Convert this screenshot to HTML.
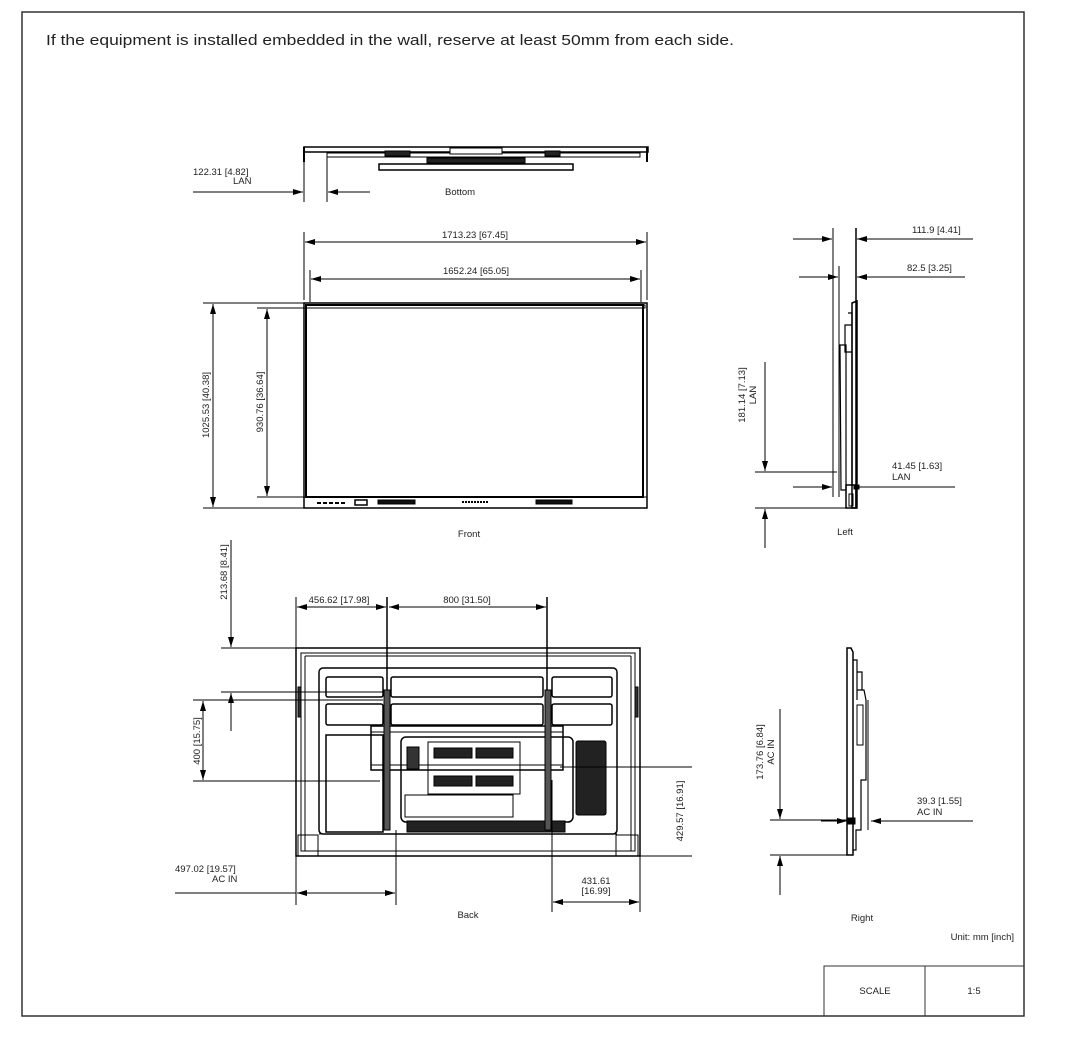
<!DOCTYPE html>
<html><head><meta charset="utf-8"><style>
html,body{margin:0;padding:0;background:#fff}
svg{display:block}
text{font-family:"Liberation Sans",sans-serif;fill:#222}
</style></head><body>
<svg width="1071" height="1040" viewBox="0 0 1071 1040" xmlns="http://www.w3.org/2000/svg">
<defs>
<marker id="a" viewBox="0 0 10 6" refX="10" refY="3" markerWidth="10" markerHeight="6" markerUnits="userSpaceOnUse" orient="auto-start-reverse"><path d="M0,0 L10,3 L0,6 Z" fill="#000"/></marker>
</defs>
<rect x="22" y="12" width="1002" height="1004" fill="none" stroke="#333" stroke-width="1.5"/>
<text x="46" y="45" font-size="15" textLength="688" lengthAdjust="spacingAndGlyphs">If the equipment is installed embedded in the wall, reserve at least 50mm from each side.</text>

<g stroke="#000" fill="none" stroke-width="1">
<!-- Bottom view -->
<rect x="304" y="147" width="344" height="5" stroke-width="1.5"/>
<line x1="304" y1="147" x2="304" y2="162" stroke-width="2"/>
<line x1="647" y1="147" x2="647" y2="162" stroke-width="2"/>
<rect x="327" y="153" width="313" height="4"/>
<rect x="379" y="164" width="194" height="6" stroke-width="1.5"/>
<rect x="385" y="151" width="25" height="5" fill="#222"/>
<rect x="427" y="158" width="98" height="5" fill="#222"/>
<rect x="545" y="151" width="15" height="5" fill="#222"/>
<rect x="450" y="148" width="52" height="6" fill="#fff"/>
<line x1="304" y1="150" x2="304" y2="202"/>
<line x1="327" y1="155" x2="327" y2="202"/>
<line x1="193" y1="192" x2="303" y2="192" marker-end="url(#a)"/>
<line x1="370" y1="192" x2="328" y2="192" marker-end="url(#a)"/>

<!-- Front view -->
<rect x="304" y="303" width="343" height="205" stroke-width="1.5"/>
<rect x="306" y="305" width="339" height="3" stroke-width="1"/>
<rect x="306" y="305" width="337" height="192" stroke-width="2"/>
<line x1="304" y1="497" x2="647" y2="497"/>
<line x1="304" y1="232" x2="304" y2="300"/>
<line x1="647" y1="232" x2="647" y2="300"/>
<line x1="310" y1="270" x2="310" y2="302"/>
<line x1="641" y1="270" x2="641" y2="302"/>
<line x1="305" y1="242" x2="646" y2="242" marker-start="url(#a)" marker-end="url(#a)"/>
<line x1="311" y1="279" x2="640" y2="279" marker-start="url(#a)" marker-end="url(#a)"/>
<line x1="203" y1="303" x2="304" y2="303"/>
<line x1="203" y1="508" x2="304" y2="508"/>
<line x1="257" y1="308" x2="306" y2="308"/>
<line x1="257" y1="497" x2="306" y2="497"/>
<line x1="213" y1="304" x2="213" y2="507" marker-start="url(#a)" marker-end="url(#a)"/>
<line x1="267" y1="309" x2="267" y2="496" marker-start="url(#a)" marker-end="url(#a)"/>
<line x1="317" y1="503" x2="347" y2="503" stroke-width="2" stroke-dasharray="4,2"/>
<rect x="355" y="500" width="12" height="5" stroke-width="1.5"/>
<rect x="378" y="500" width="37" height="4" fill="#111"/>
<line x1="462" y1="502" x2="488" y2="502" stroke-width="2" stroke-dasharray="2,1"/>
<rect x="536" y="500" width="36" height="4" fill="#111"/>

<!-- Back view -->
<line x1="231" y1="540" x2="231" y2="647" marker-end="url(#a)"/>
<line x1="221" y1="648" x2="296" y2="648"/>
<line x1="296" y1="597" x2="296" y2="648"/>
<line x1="387" y1="597" x2="387" y2="830" stroke-width="1.5"/>
<line x1="547" y1="597" x2="547" y2="830" stroke-width="1.5"/>
<line x1="297" y1="607" x2="386" y2="607" marker-start="url(#a)" marker-end="url(#a)"/>
<line x1="389" y1="607" x2="546" y2="607" marker-start="url(#a)" marker-end="url(#a)"/>
<rect x="296" y="648" width="344" height="208" stroke-width="1.5"/>
<rect x="301" y="653" width="334" height="198"/>
<path d="M305,656 L631,656 M305,656 L305,851 M631,656 L631,851"/>
<rect x="319" y="668" width="298" height="166" rx="4" stroke-width="1.5"/>
<rect x="326" y="677" width="57" height="20" rx="2" stroke-width="1.5"/>
<rect x="391" y="677" width="152" height="20" rx="2" stroke-width="1.5"/>
<rect x="552" y="677" width="60" height="20" rx="2" stroke-width="1.5"/>
<rect x="326" y="704" width="57" height="21" rx="2" stroke-width="1.5"/>
<rect x="391" y="704" width="152" height="21" rx="2" stroke-width="1.5"/>
<rect x="552" y="704" width="60" height="21" rx="2" stroke-width="1.5"/>
<rect x="326" y="735" width="57" height="97" stroke-width="1.5"/>
<rect x="401" y="737" width="172" height="85" rx="5" stroke-width="1.5"/>
<rect x="428" y="742" width="92" height="52"/>
<rect x="405" y="795" width="108" height="22"/>
<rect x="371" y="726" width="192" height="44" stroke-width="1.5"/>
<line x1="371" y1="732" x2="563" y2="732"/>
<line x1="371" y1="765" x2="563" y2="765"/>
<rect x="434" y="748" width="38" height="10" fill="#222"/>
<rect x="476" y="748" width="37" height="10" fill="#222"/>
<rect x="434" y="776" width="38" height="10" fill="#222"/>
<rect x="476" y="776" width="37" height="10" fill="#222"/>
<rect x="407" y="747" width="12" height="22" fill="#333"/>
<rect x="576" y="741" width="30" height="74" rx="2" fill="#222"/>
<rect x="407" y="821" width="158" height="11" fill="#222"/>
<rect x="384" y="690" width="6" height="140" fill="#555"/>
<rect x="545" y="690" width="6" height="140" fill="#555"/>
<rect x="298" y="687" width="3" height="30" fill="#333"/>
<rect x="635" y="687" width="3" height="30" fill="#333"/>
<rect x="298" y="835" width="20" height="21"/>
<rect x="616" y="835" width="22" height="21"/>
<line x1="319" y1="834" x2="617" y2="834"/>
<line x1="221" y1="692" x2="383" y2="692"/>
<line x1="193" y1="700" x2="383" y2="700"/>
<line x1="193" y1="781" x2="380" y2="781"/>
<line x1="231" y1="731" x2="231" y2="693" marker-end="url(#a)"/>
<line x1="203" y1="701" x2="203" y2="780" marker-start="url(#a)" marker-end="url(#a)"/>
<line x1="560" y1="767" x2="692" y2="767"/>
<line x1="640" y1="856" x2="692" y2="856"/>
<line x1="296" y1="856" x2="296" y2="905"/>
<line x1="396" y1="830" x2="396" y2="905"/>
<line x1="175" y1="893" x2="296" y2="893"/>
<line x1="297" y1="893" x2="395" y2="893" marker-start="url(#a)" marker-end="url(#a)"/>
<line x1="552" y1="780" x2="552" y2="912"/>
<line x1="640" y1="856" x2="640" y2="912"/>
<line x1="553" y1="902" x2="639" y2="902" marker-start="url(#a)" marker-end="url(#a)"/>

<!-- Left view -->
<line x1="833" y1="228" x2="833" y2="497"/>
<line x1="839" y1="266" x2="839" y2="497"/>
<line x1="856" y1="228" x2="856" y2="508" stroke-width="1.5"/>
<line x1="793" y1="239" x2="832" y2="239" marker-end="url(#a)"/>
<line x1="973" y1="239" x2="857" y2="239" marker-end="url(#a)"/>
<line x1="799" y1="277" x2="838" y2="277" marker-end="url(#a)"/>
<line x1="965" y1="277" x2="857" y2="277" marker-end="url(#a)"/>
<path d="M852,303 L857,301 L857,508 L852,508 Z" stroke-width="1.5"/>
<path d="M848,313 L852,313 L852,485 M845,325 L852,325 L852,352 L845,352 Z M840,345 L846,345 L846,490 L841,490 Z" stroke-width="1.2"/>
<rect x="846" y="485" width="10" height="23" stroke-width="1.5"/>
<rect x="849" y="494" width="4" height="12"/>
<line x1="765" y1="362" x2="765" y2="471" marker-end="url(#a)"/>
<line x1="755" y1="472" x2="837" y2="472"/>
<line x1="755" y1="508" x2="850" y2="508"/>
<line x1="765" y1="548" x2="765" y2="509" marker-end="url(#a)"/>
<line x1="793" y1="487" x2="832" y2="487" marker-end="url(#a)"/>
<line x1="855" y1="487" x2="955" y2="487"/>
<rect x="854" y="485" width="5" height="4" fill="#000"/>

<!-- Right view -->
<path d="M847,648 L851,648 L853,652 L853,855 L847,855 Z" stroke-width="1.5"/>
<path d="M853,660 L857,660 L857,700 M857,672 L862,672 L862,690 L857,690 M858,690 L864,690 L866,700 L866,780 L861,780 L861,830 L856,830 L856,850 L853,850" stroke-width="1.2"/>
<rect x="857" y="705" width="6" height="40" fill="#fff"/>
<line x1="868" y1="700" x2="868" y2="830"/>
<line x1="780" y1="709" x2="780" y2="819" marker-end="url(#a)"/>
<line x1="770" y1="820" x2="850" y2="820"/>
<line x1="770" y1="855" x2="850" y2="855"/>
<line x1="780" y1="895" x2="780" y2="856" marker-end="url(#a)"/>
<line x1="821" y1="821" x2="847" y2="821" marker-end="url(#a)"/>
<line x1="973" y1="821" x2="871" y2="821" marker-end="url(#a)"/>
<rect x="847" y="818" width="8" height="6" fill="#000"/>

<!-- scale box -->
<rect x="824" y="966" width="200" height="50" stroke="#333"/>
<line x1="925" y1="966" x2="925" y2="1016" stroke="#333"/>
</g>

<g font-size="9.5">
<text x="193" y="175">122.31 [4.82]</text>
<text x="233" y="184">LAN</text>
<text x="445" y="195">Bottom</text>
<text x="475" y="238" text-anchor="middle">1713.23 [67.45]</text>
<text x="476" y="274" text-anchor="middle">1652.24 [65.05]</text>
<text transform="translate(209,405) rotate(-90)" text-anchor="middle">1025.53 [40.38]</text>
<text transform="translate(263,402) rotate(-90)" text-anchor="middle">930.76 [36.64]</text>
<text x="469" y="537" text-anchor="middle">Front</text>
<text transform="translate(227,572) rotate(-90)" text-anchor="middle">213.68 [8.41]</text>
<text x="339" y="603" text-anchor="middle">456.62 [17.98]</text>
<text x="467" y="603" text-anchor="middle">800 [31.50]</text>
<text transform="translate(200,741) rotate(-90)" text-anchor="middle">400 [15.75]</text>
<text transform="translate(683,811) rotate(-90)" text-anchor="middle">429.57 [16.91]</text>
<text x="175" y="872">497.02 [19.57]</text>
<text x="212" y="882">AC IN</text>
<text x="596" y="884" text-anchor="middle">431.61</text>
<text x="596" y="894" text-anchor="middle">[16.99]</text>
<text x="468" y="918" text-anchor="middle">Back</text>
<text x="912" y="233">111.9 [4.41]</text>
<text x="907" y="271">82.5 [3.25]</text>
<text transform="translate(745,395) rotate(-90)" text-anchor="middle">181.14 [7.13]</text>
<text transform="translate(756,395) rotate(-90)" text-anchor="middle">LAN</text>
<text x="892" y="469">41.45 [1.63]</text>
<text x="892" y="480">LAN</text>
<text x="845" y="535" text-anchor="middle">Left</text>
<text transform="translate(763,752) rotate(-90)" text-anchor="middle">173.76 [6.84]</text>
<text transform="translate(774,752) rotate(-90)" text-anchor="middle">AC IN</text>
<text x="917" y="804">39.3 [1.55]</text>
<text x="917" y="815">AC IN</text>
<text x="862" y="921" text-anchor="middle">Right</text>
<text x="1014" y="940" text-anchor="end">Unit: mm [inch]</text>
<text x="875" y="994" text-anchor="middle">SCALE</text>
<text x="974" y="994" text-anchor="middle">1:5</text>
</g>
</svg>
</body></html>
